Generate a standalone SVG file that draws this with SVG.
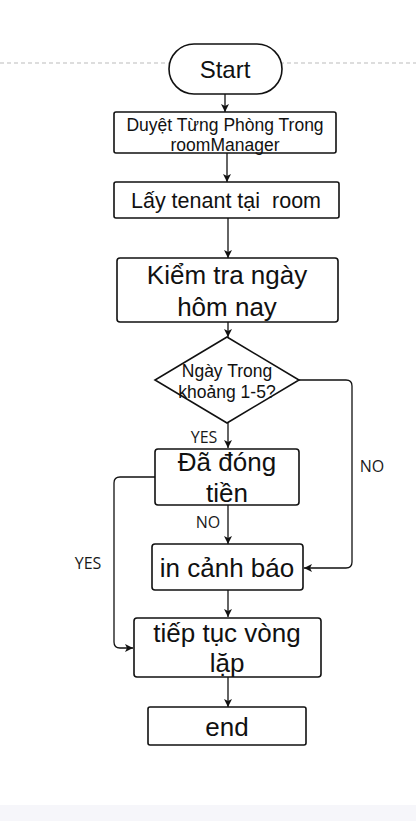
<svg xmlns="http://www.w3.org/2000/svg" width="416" height="821" viewBox="0 0 416 821">
<style>
.n{fill:#fff;stroke:#111;stroke-width:1.6}
.t{font-family:"Liberation Sans",Arial,sans-serif;fill:#111;text-anchor:middle}
.c{fill:none;stroke:#111;stroke-width:1.3}
.l{font-family:"Open Sans","Noto Sans",sans-serif;font-size:16px;fill:#1a1a1a;text-anchor:middle}
</style>
<defs>
<marker id="a" markerWidth="10" markerHeight="10" refX="8" refY="5" orient="auto" markerUnits="userSpaceOnUse">
<path d="M0,1 L8,5 L0,9 L2,5 Z" fill="#111"/>
</marker>
</defs>
<rect width="416" height="821" fill="#fff"/>
<rect x="0" y="805" width="416" height="16" fill="#f6f6fa"/>
<line x1="0" y1="63" x2="416" y2="63" stroke="#bbb" stroke-width="1" stroke-dasharray="4,3"/>
<g id="connectors">
<path class="c" d="M225,94 L225,112" marker-end="url(#a)"/>
<path class="c" d="M227,153 L227,182" marker-end="url(#a)"/>
<path class="c" d="M228,218 L228,258" marker-end="url(#a)"/>
<path class="c" d="M228,322 L228,337" marker-end="url(#a)"/>
<path class="c" d="M228,423 L228,448" marker-end="url(#a)"/>
<path class="c" d="M228,505 L228,544" marker-end="url(#a)"/>
<path class="c" d="M228,590 L228,617" marker-end="url(#a)"/>
<path class="c" d="M228,677 L228,707" marker-end="url(#a)"/>
<path class="c" d="M299,380 L346,380 Q352,380 352,386 L352,562 Q352,568 346,568 L304,568" marker-end="url(#a)"/>
<path class="c" d="M155,477 L120,477 Q114,477 114,483 L114,642 Q114,648 120,648 L133,648" marker-end="url(#a)"/>
<text class="l" x="204" y="443">YES</text>
<text class="l" x="208" y="528">NO</text>
<text class="l" x="372" y="472">NO</text>
<text class="l" x="88" y="569">YES</text>
</g>
<g id="start">
<rect class="n" x="169" y="44" width="113" height="50" rx="25"/>
<text class="t" x="225" y="78" font-size="24">Start</text>
</g>
<g id="duyet">
<rect class="n" x="114" y="112" width="222" height="41" rx="2"/>
<text class="t" x="225" y="131" font-size="17.5">Duyệt Từng Phòng Trong</text>
<text class="t" x="225" y="151" font-size="17.5">roomManager</text>
</g>
<g id="lay">
<rect class="n" x="114" y="182" width="225" height="36" rx="2"/>
<text class="t" x="226" y="208" font-size="21.5" xml:space="preserve">Lấy tenant tại  room</text>
</g>
<g id="kiemtra">
<rect class="n" x="117" y="258" width="221" height="64" rx="3"/>
<text class="t" x="227" y="284" font-size="26">Kiểm tra ngày</text>
<text class="t" x="227" y="316" font-size="26">hôm nay</text>
</g>
<g id="ngay">
<polygon class="n" points="227,337 299,380 227,423 155,380"/>
<text class="t" x="227" y="377" font-size="17.5">Ngày Trong</text>
<text class="t" x="227" y="398" font-size="17.5">khoảng 1-5?</text>
</g>
<g id="dadong">
<rect class="n" x="155" y="449" width="144" height="56" rx="3"/>
<text class="t" x="227" y="471" font-size="26">Đã đóng</text>
<text class="t" x="227" y="502" font-size="26">tiền</text>
</g>
<g id="canhbao">
<rect class="n" x="152" y="544" width="151" height="46" rx="3"/>
<text class="t" x="227" y="577" font-size="26">in cảnh báo</text>
</g>
<g id="tieptuc">
<rect class="n" x="134" y="618" width="187" height="59" rx="3"/>
<text class="t" x="227" y="642" font-size="26">tiếp tục vòng</text>
<text class="t" x="227" y="672" font-size="26">lặp</text>
</g>
<g id="end">
<rect class="n" x="148" y="707" width="158" height="38" rx="2"/>
<text class="t" x="227" y="736" font-size="26">end</text>
</g>
</svg>
